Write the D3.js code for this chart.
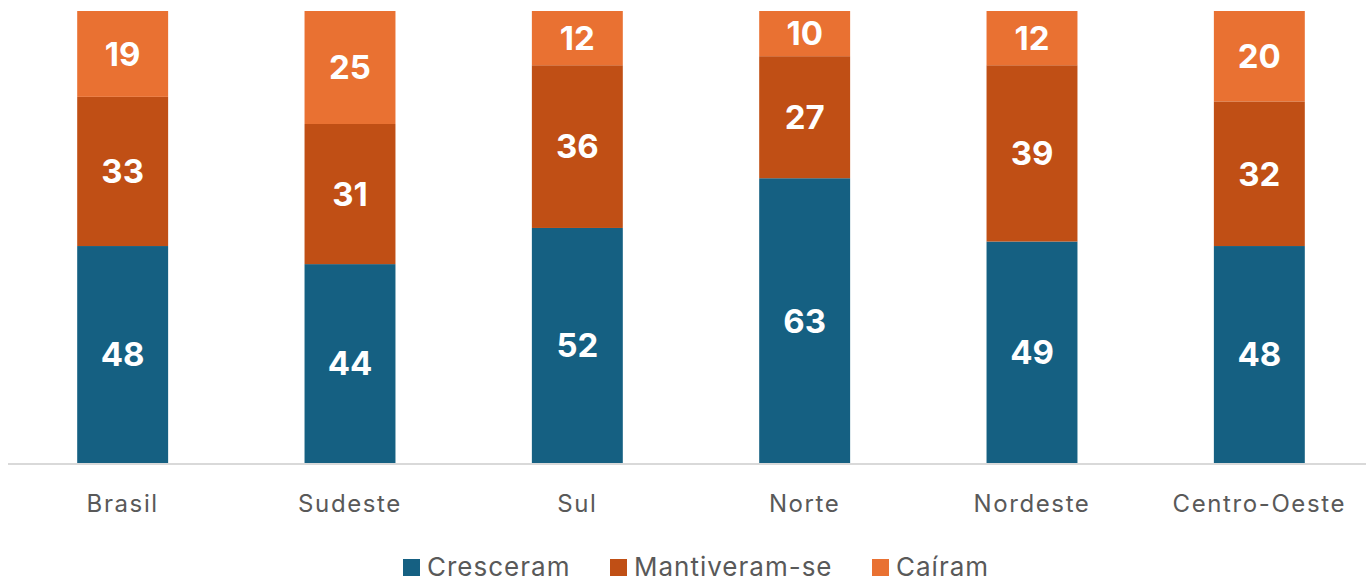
<!DOCTYPE html>
<meta charset="utf-8">
<style>
body { margin: 0; background: #fff; }
text { font-family: Inter, Roboto, "Noto Sans", sans-serif; }
.val { fill: #fff; font-weight: bold; font-size: 33px; }
.cat { fill: #595959; font-size: 24px; letter-spacing: 1.6px; }
.leg { fill: #595959; font-size: 26px; letter-spacing: 1px; }
</style>
<svg width="1366" height="583"></svg>
<script src="https://d3js.org/d3.v7.min.js"></script>
<script>

var regions = ["Brasil", "Sudeste", "Sul", "Norte", "Nordeste", "Centro-Oeste"];
var cresceram = [48, 44, 52, 63, 49, 48];
var mantiveram = [33, 31, 36, 27, 39, 32];
var cairam = [19, 25, 12, 10, 12, 20];
var seriesNames = ["Cresceram", "Mantiveram-se", "Caíram"];
var seriesColors = ["#156082", "#c04f15", "#e97132"];

var rows = regions.map(function(r, i) {
  return {region: r, Cresceram: cresceram[i], "Mantiveram-se": mantiveram[i], "Caíram": cairam[i]};
});

var svg = d3.select("svg"),
    baseY = 463,
    topY = 11;

var x = d3.scaleBand()
    .domain(regions)
    .range([9, 1373])
    .paddingInner(0.6)
    .paddingOuter(0.3);

var y = d3.scaleLinear()
    .domain([0, 100])
    .range([baseY, topY]);

var stack = d3.stack().keys(seriesNames)(rows);

var layer = svg.append("g").selectAll("g")
  .data(stack)
  .enter().append("g")
    .attr("fill", function(d, i) { return seriesColors[i]; });

layer.selectAll("rect")
  .data(function(d) { return d; })
  .enter().append("rect")
    .attr("x", function(d) { return x(d.data.region); })
    .attr("width", x.bandwidth())
    .attr("y", function(d) { return y(d[1]); })
    .attr("height", function(d) { return y(d[0]) - y(d[1]); });

layer.selectAll("text")
  .data(function(d) { return d; })
  .enter().append("text")
    .attr("class", "val")
    .attr("text-anchor", "middle")
    .attr("x", function(d) { return x(d.data.region) + x.bandwidth() / 2; })
    .attr("y", function(d) { return (y(d[0]) + y(d[1])) / 2; })
    .attr("dy", "0.36em")
    .text(function(d) { return d[1] - d[0]; });

// axis baseline
svg.append("line")
    .attr("x1", 8).attr("x2", 1366)
    .attr("y1", baseY + 1).attr("y2", baseY + 1)
    .attr("stroke", "#d9d9d9")
    .attr("stroke-width", 2);

svg.append("g").selectAll("text")
  .data(regions)
  .enter().append("text")
    .attr("class", "cat")
    .attr("text-anchor", "middle")
    .attr("x", function(d) { return x(d) + x.bandwidth() / 2; })
    .attr("y", 512)
    .text(function(d) { return d; });

// legend
var legX = [403, 610, 872];
var leg = svg.append("g").selectAll("g")
  .data(seriesNames)
  .enter().append("g")
    .attr("transform", function(d, i) { return "translate(" + legX[i] + ",559)"; });

leg.append("rect")
    .attr("width", 17).attr("height", 17)
    .attr("fill", function(d, i) { return seriesColors[i]; });

leg.append("text")
    .attr("class", "leg")
    .attr("x", 24)
    .attr("y", 17)
    .text(function(d) { return d; });

</script>
